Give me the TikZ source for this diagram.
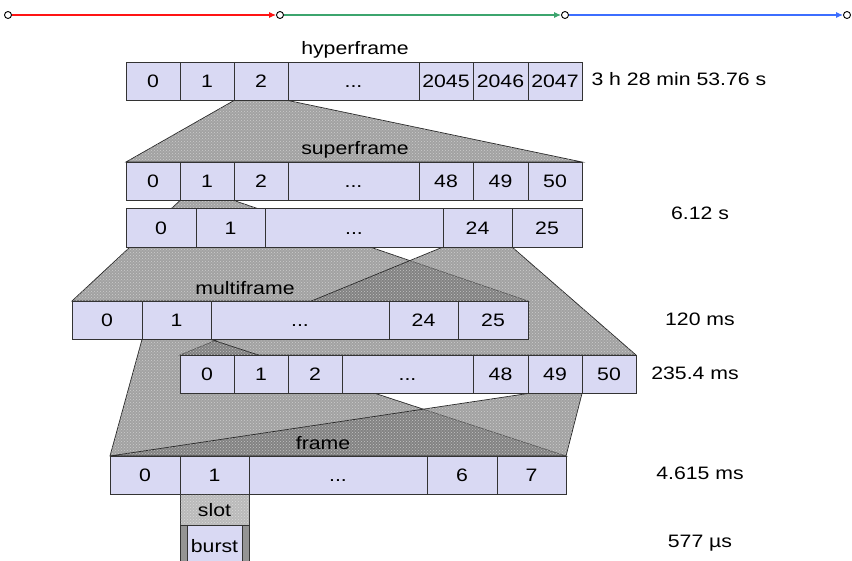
\documentclass[tikz,border=0pt]{standalone}
\usepackage{fontspec}
\setmainfont{Liberation Sans}[FakeStretch=1.18]
\usepackage{tikz}
\usepackage{xcolor}
\usetikzlibrary{positioning,arrows.meta,patterns}
\definecolor{cellfill}{RGB}{217,217,243}
\definecolor{seqred}{RGB}{255,20,20}
\definecolor{seqgreen}{RGB}{60,165,110}
\definecolor{seqblue}{RGB}{60,110,255}
\pgfdeclarelayer{background}
\pgfsetlayers{background,main}
\tikzset{
    frame-cell/.style = {draw=black!80, fill=cellfill, rectangle, line width=0.8pt, inner sep=0pt, outer sep=0pt, minimum height=38.5pt, text height=12.8pt, text depth=0pt},
    zoom-area/.style = {draw=black!85, line width=0.7pt, fill=black!55, fill opacity=0.66,
        postaction={pattern=crosshatch dots, pattern color=white, fill opacity=0.45}},
    slot-cell/.style = {draw=black!80, line width=0.8pt, fill=black!45, fill opacity=0.6, inner sep=0pt, outer sep=0pt,
        postaction={pattern=crosshatch dots, pattern color=white, fill opacity=0.45}},
    burst-bar/.style = {draw=black!80, line width=0.8pt, fill=black!42, inner sep=0pt, outer sep=0pt},
    end-point/.style = {circle, draw=black, fill=white, line width=0.9pt, inner sep=0pt, minimum size=7pt},
    row-title/.style = {inner sep=1pt},
}

\begin{document}
\begin{tikzpicture}[x=1pt, y=-1pt, font=\fontsize{18}{21}\selectfont]
\clip (0,0) rectangle (852,560);

% time line
\node[end-point] (p0) at (8,15) {};
\node[end-point] (p1) at (280,15) {};
\node[end-point] (p2) at (565,15) {};
\node[end-point] (p3) at (847,15) {};
\draw[seqred, line width=1.1pt, -{Latex[length=7pt,width=6pt]}] (p0) -- (p1);
\draw[seqgreen, line width=1.1pt, -{Latex[length=7pt,width=6pt]}] (p1) -- (p2);
\draw[seqblue, line width=1.1pt, -{Latex[length=7pt,width=6pt]}] (p2) -- (p3);

% hyperframe
\node[frame-cell, minimum width=54pt, anchor=north west] (h0) at (126,62) {0};
\node[frame-cell, minimum width=54pt, right=0pt of h0] (h1) {1};
\node[frame-cell, minimum width=54pt, right=0pt of h1] (h2) {2};
\node[frame-cell, minimum width=131pt, right=0pt of h2] (hdots) {...};
\node[frame-cell, minimum width=54pt, right=0pt of hdots] (h2045) {2045};
\node[frame-cell, minimum width=55pt, right=0pt of h2045] (h2046) {2046};
\node[frame-cell, minimum width=54pt, right=0pt of h2046] (h2047) {2047};
\node[row-title] (hyper-title) at (355,50) {hyperframe};
\node[anchor=west] (hyper-time) at (588,79) {3 h 28 min 53.76 s};

% superframe, 51 x 26-multiframe
\node[frame-cell, minimum width=54pt, anchor=north west] (s0) at (126,162) {0};
\node[frame-cell, minimum width=54pt, right=0pt of s0] (s1) {1};
\node[frame-cell, minimum width=54pt, right=0pt of s1] (s2) {2};
\node[frame-cell, minimum width=131pt, right=0pt of s2] (sdots) {...};
\node[frame-cell, minimum width=54pt, right=0pt of sdots] (s48) {48};
\node[frame-cell, minimum width=55pt, right=0pt of s48] (s49) {49};
\node[frame-cell, minimum width=54pt, right=0pt of s49] (s50) {50};
\node[row-title] (super-title) at (355,150) {superframe};

% superframe, 26 x 51-multiframe
\node[frame-cell, minimum width=70pt, anchor=north west] (t0) at (126,208.5) {0};
\node[frame-cell, minimum width=69pt, right=0pt of t0] (t1) {1};
\node[frame-cell, minimum width=178pt, right=0pt of t1] (tdots) {...};
\node[frame-cell, minimum width=69pt, right=0pt of tdots] (t24) {24};
\node[frame-cell, minimum width=70pt, right=0pt of t24] (t25) {25};
\node (super-time) at (700,213) {6.12 s};

% 26-multiframe
\node[frame-cell, minimum width=70pt, anchor=north west] (m0) at (72,301) {0};
\node[frame-cell, minimum width=69pt, right=0pt of m0] (m1) {1};
\node[frame-cell, minimum width=178pt, right=0pt of m1] (mdots) {...};
\node[frame-cell, minimum width=69pt, right=0pt of mdots] (m24) {24};
\node[frame-cell, minimum width=70pt, right=0pt of m24] (m25) {25};
\node[row-title] (multi-title) at (245,288) {multiframe};
\node (multi-time) at (700,319) {120 ms};

% 51-multiframe
\node[frame-cell, minimum width=54pt, anchor=north west] (n0) at (180,355) {0};
\node[frame-cell, minimum width=54pt, right=0pt of n0] (n1) {1};
\node[frame-cell, minimum width=54pt, right=0pt of n1] (n2) {2};
\node[frame-cell, minimum width=131pt, right=0pt of n2] (ndots) {...};
\node[frame-cell, minimum width=55pt, right=0pt of ndots] (n48) {48};
\node[frame-cell, minimum width=54pt, right=0pt of n48] (n49) {49};
\node[frame-cell, minimum width=54pt, right=0pt of n49] (n50) {50};
\node (control-time) at (695,373) {235.4 ms};

% TDMA frame
\node[frame-cell, minimum width=70pt, anchor=north west] (f0) at (110,456) {0};
\node[frame-cell, minimum width=69pt, right=0pt of f0] (f1) {1};
\node[frame-cell, minimum width=178pt, right=0pt of f1] (fdots) {...};
\node[frame-cell, minimum width=70pt, right=0pt of fdots] (f6) {6};
\node[frame-cell, minimum width=69pt, right=0pt of f6] (f7) {7};
\node[row-title] (frame-title) at (323,443) {frame};
\node (frame-time) at (700,473) {4.615 ms};

% slot and burst
\node[slot-cell, minimum width=69pt, minimum height=31pt, anchor=north, text opacity=1] (slot) at (f1.south) {slot};
\node[burst-bar, minimum width=69pt, minimum height=42pt, anchor=north] (bar) at (slot.south) {};
\node[frame-cell, minimum width=55pt, minimum height=42pt, anchor=north] (burst) at (bar.north) {burst};
\node (slot-time) at (700,543) {577 µs};

% zoomed areas
\begin{pgfonlayer}{background}
\fill[white] (0,0) rectangle (852,560);
\draw[zoom-area] (h2.south west) -- (h2.south east) -- (s50.north east) -- (s0.north west) -- cycle;
\draw[zoom-area] (s1.south west) -- (s1.south east) -- (m25.north east) -- (m0.north west) -- cycle;
\draw[zoom-area] (t24.south west) -- (t24.south east) -- (n50.north east) -- (n0.north west) -- cycle;
\draw[zoom-area] (m1.south west) -- (m1.south east) -- (f7.north east) -- (f0.north west) -- cycle;
\draw[zoom-area] (n49.south west) -- (n49.south east) -- (f7.north east) -- (f0.north west) -- cycle;
\end{pgfonlayer}
\end{tikzpicture}
\end{document}
